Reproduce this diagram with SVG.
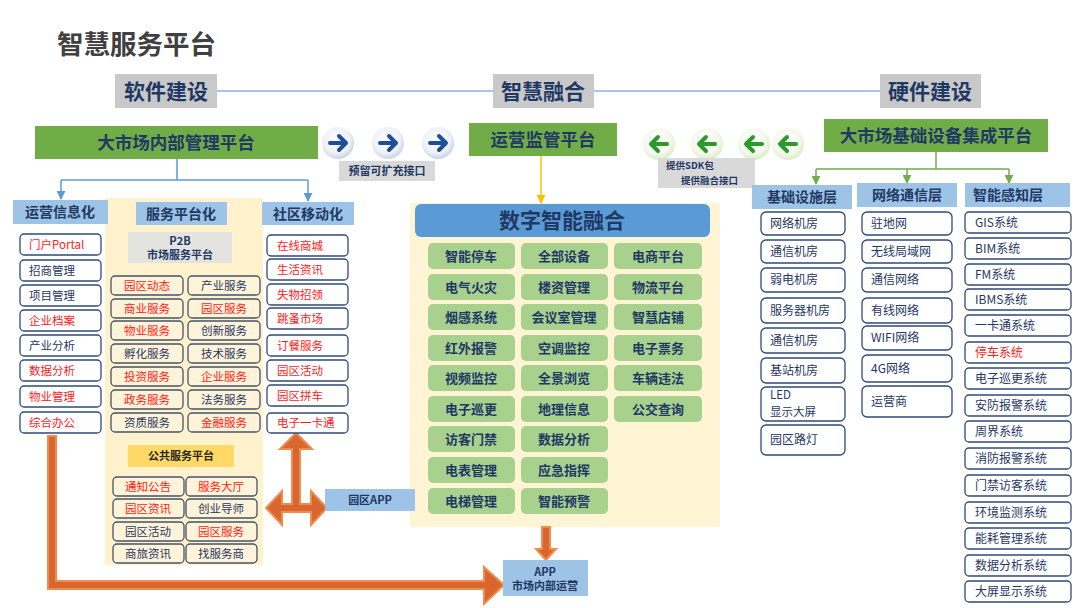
<svg xmlns="http://www.w3.org/2000/svg" width="1080" height="608" viewBox="0 0 1080 608">
<defs>
<style>
text{font-family:"Noto Sans CJK SC","Liberation Sans",sans-serif;}
.hdr{fill:#c9c9c9;}
.hdrt{font-size:21px;font-weight:700;fill:#1f3864;text-anchor:middle;}
.grn{fill:#70ad47;}
.grnt{font-size:17.5px;font-weight:700;fill:#1f3864;text-anchor:middle;}
.lb{fill:#9dc3e6;}
.lbt{font-size:14px;font-weight:700;fill:#1f3864;text-anchor:middle;}
.box{fill:#ffffff;stroke:#2f4a7a;stroke-width:1.3;}
.cbox{fill:#fff3d9;stroke:#44546a;stroke-width:1.3;}
.t{font-size:11.5px;fill:#1f3864;}
.r{fill:#ff1a1a;}
.tm{text-anchor:middle;}
.g{fill:#a9d18e;}
.gt{font-size:13px;font-weight:700;fill:#1f3864;text-anchor:middle;}
.ht{font-size:12px;fill:#1f3864;}
.ora{fill:#d9652f;stroke:#ef8d4f;stroke-width:2;stroke-linejoin:miter;}
.bl{stroke:#5b9bd5;stroke-width:1.5;fill:none;}
.gl{stroke:#70ad47;stroke-width:1.5;fill:none;}
.barw{stroke:#1f4e99;stroke-width:4;fill:none;stroke-linecap:round;stroke-linejoin:round;}
.garw{stroke:#2a9a2a;stroke-width:4;fill:none;stroke-linecap:round;stroke-linejoin:round;}
.lbl{font-size:9.5px;font-weight:700;fill:#1f3864;}
</style>
<radialGradient id="bc" cx="0.45" cy="0.4" r="0.6">
<stop offset="0" stop-color="#ffffff"/><stop offset="0.7" stop-color="#eef1f8"/><stop offset="1" stop-color="#c9d2e6"/>
</radialGradient>
<radialGradient id="gc" cx="0.45" cy="0.4" r="0.6">
<stop offset="0" stop-color="#ffffff"/><stop offset="0.7" stop-color="#f4f9ec"/><stop offset="1" stop-color="#dcebc8"/>
</radialGradient>
<marker id="mb" viewBox="0 0 10 10" refX="9" refY="5" markerWidth="6" markerHeight="6" orient="auto"><path d="M0,0 L10,5 L0,10 z" fill="#5b9bd5"/></marker>
<marker id="mg" viewBox="0 0 10 10" refX="9" refY="5" markerWidth="6" markerHeight="6" orient="auto"><path d="M0,0 L10,5 L0,10 z" fill="#70ad47"/></marker>
<marker id="my" viewBox="0 0 10 10" refX="9" refY="5" markerWidth="6" markerHeight="6" orient="auto"><path d="M0,0 L10,5 L0,10 z" fill="#ffc000"/></marker>
<g id="ab"><circle r="16" fill="url(#bc)"/><path class="barw" d="M-8,0 H7 M1,-7 L8,0 L1,7"/></g>
<g id="ag"><circle r="16" fill="url(#gc)"/><path class="garw" d="M8,0 H-7 M-1,-7 L-8,0 L-1,7"/></g>
</defs>
<rect width="1080" height="608" fill="#ffffff"/>

<g id="title"><text x="57" y="54" style="font-size:26.5px;font-weight:700;fill:#404040">智慧服务平台</text></g>

<g id="service-bg"><rect x="105" y="198" width="158" height="367" fill="#fff2cc"/></g>
<g id="fusion-bg"><rect x="410" y="203" width="310" height="324" fill="#fff2cc" opacity="0.85"/></g>

<g id="connectors">
<line x1="217" y1="91" x2="493" y2="91" stroke="#8db3e2" stroke-width="1.3"/>
<line x1="594" y1="91" x2="880" y2="91" stroke="#8db3e2" stroke-width="1.3"/>
<path class="bl" d="M177,159 V180 M61,180 H308"/>
<line class="bl" x1="61" y1="180" x2="61" y2="199" marker-end="url(#mb)"/>
<line class="bl" x1="308" y1="180" x2="308" y2="201" marker-end="url(#mb)"/>
<path class="gl" d="M936,152 V169 M816,169 H1009"/>
<line class="gl" x1="816" y1="169" x2="816" y2="184" marker-end="url(#mg)"/>
<line class="gl" x1="907" y1="169" x2="907" y2="183" marker-end="url(#mg)"/>
<line class="gl" x1="1009" y1="169" x2="1009" y2="183" marker-end="url(#mg)"/>
<line x1="541" y1="156" x2="541" y2="203" stroke="#ffc000" stroke-width="1.5" marker-end="url(#my)"/>
<polygon class="ora" points="296,433 312,449 300,449 300,504 311,504 311,491 327,508 311,525 311,512 282,512 282,525 266,508 282,491 282,504 292,504 292,449 280,449"/>
<polygon class="ora" points="48,436 56,436 56,581 484,581 484,567 504,585 484,604 484,589 48,589"/>
<polygon class="ora" points="542,527 550,527 550,549 556,549 546,560 536,549 542,549"/>
</g>

<g id="h-soft"><rect class="hdr" x="115" y="74" width="102" height="34"/><text class="hdrt" x="166" y="99">软件建设</text></g>
<g id="h-fuse"><rect class="hdr" x="493" y="74" width="101" height="34"/><text class="hdrt" x="543" y="99">智慧融合</text></g>
<g id="h-hard"><rect class="hdr" x="880" y="74" width="101" height="34"/><text class="hdrt" x="930" y="99">硬件建设</text></g>

<g id="p-internal"><rect class="grn" x="35" y="126" width="283" height="33"/><text class="grnt" x="176" y="149">大市场内部管理平台</text></g>
<g id="p-monitor"><rect class="grn" x="469" y="123" width="148" height="33"/><text class="grnt" x="543" y="146">运营监管平台</text></g>
<g id="p-infra"><rect class="grn" x="824" y="119" width="224" height="33"/><text class="grnt" x="936" y="142">大市场基础设备集成平台</text></g>

<g id="arrows-blue">
<use href="#ab" x="338" y="143"/><use href="#ab" x="388" y="143"/><use href="#ab" x="438" y="143"/>
<rect x="339" y="161" width="96" height="20" fill="#d9d9d9"/>
<text class="lbl" x="387" y="175" text-anchor="middle" style="font-size:11px">预留可扩充接口</text>
</g>
<g id="arrows-green">
<use href="#ag" x="659" y="144"/><use href="#ag" x="707" y="144"/><use href="#ag" x="754" y="144"/><use href="#ag" x="788" y="144"/>
<rect x="658" y="158" width="97" height="30" fill="#d9d9d9"/>
<text class="lbl" x="666" y="169">提供SDK包</text>
<text class="lbl" x="681" y="184">提供融合接口</text>
</g>

<g id="col-ops">
<rect class="lb" x="13" y="200" width="95" height="24"/><text class="lbt" x="60" y="217">运营信息化</text>
<g><rect class="box" x="20" y="234" width="81" height="21" rx="4"/><text class="t r" x="29" y="248.5">门户Portal</text></g>
<g><rect class="box" x="20" y="260" width="81" height="21" rx="4"/><text class="t" x="29" y="274.5">招商管理</text></g>
<g><rect class="box" x="20" y="285" width="81" height="21" rx="4"/><text class="t" x="29" y="299.5">项目管理</text></g>
<g><rect class="box" x="20" y="310" width="81" height="21" rx="4"/><text class="t r" x="29" y="324.5">企业档案</text></g>
<g><rect class="box" x="20" y="335" width="81" height="21" rx="4"/><text class="t" x="29" y="349.5">产业分析</text></g>
<g><rect class="box" x="20" y="360" width="81" height="21" rx="4"/><text class="t r" x="29" y="374.5">数据分析</text></g>
<g><rect class="box" x="20" y="386" width="81" height="21" rx="4"/><text class="t r" x="29" y="400.5">物业管理</text></g>
<g><rect class="box" x="20" y="412" width="81" height="21" rx="4"/><text class="t r" x="29" y="426.5">综合办公</text></g>
</g>

<g id="col-service">
<rect class="lb" x="136" y="202" width="91" height="23"/><text class="lbt" x="181" y="219">服务平台化</text>
<rect x="128" y="232" width="104" height="31" fill="#e3e3e0"/>
<text class="tm" x="180" y="245" style="font-size:11px;font-weight:700;fill:#1f3864">P2B</text>
<text class="tm" x="180" y="259" style="font-size:11px;font-weight:700;fill:#1f3864">市场服务平台</text>
<g class="t tm">
<rect class="cbox" x="111" y="276" width="72" height="19" rx="4"/><text class="r" x="147" y="289.5">园区动态</text>
<rect class="cbox" x="188" y="276" width="72" height="19" rx="4"/><text x="224" y="289.5">产业服务</text>
<rect class="cbox" x="111" y="299" width="72" height="19" rx="4"/><text class="r" x="147" y="312.5">商业服务</text>
<rect class="cbox" x="188" y="299" width="72" height="19" rx="4"/><text class="r" x="224" y="312.5">园区服务</text>
<rect class="cbox" x="111" y="321" width="72" height="19" rx="4"/><text class="r" x="147" y="334.5">物业服务</text>
<rect class="cbox" x="188" y="321" width="72" height="19" rx="4"/><text x="224" y="334.5">创新服务</text>
<rect class="cbox" x="111" y="344" width="72" height="19" rx="4"/><text x="147" y="357.5">孵化服务</text>
<rect class="cbox" x="188" y="344" width="72" height="19" rx="4"/><text x="224" y="357.5">技术服务</text>
<rect class="cbox" x="111" y="367" width="72" height="19" rx="4"/><text class="r" x="147" y="380.5">投资服务</text>
<rect class="cbox" x="188" y="367" width="72" height="19" rx="4"/><text class="r" x="224" y="380.5">企业服务</text>
<rect class="cbox" x="111" y="390" width="72" height="19" rx="4"/><text class="r" x="147" y="403.5">政务服务</text>
<rect class="cbox" x="188" y="390" width="72" height="19" rx="4"/><text x="224" y="403.5">法务服务</text>
<rect class="cbox" x="111" y="413" width="72" height="19" rx="4"/><text x="147" y="426.5">资质服务</text>
<rect class="cbox" x="188" y="413" width="72" height="19" rx="4"/><text class="r" x="224" y="426.5">金融服务</text>
</g>
<rect x="128" y="445" width="106" height="22" fill="#ffd966"/>
<text class="tm" x="181" y="460" style="font-size:11px;font-weight:700;fill:#262626">公共服务平台</text>
<g class="t tm">
<rect class="cbox" x="113" y="477" width="71" height="19" rx="4"/><text class="r" x="148" y="490.5">通知公告</text>
<rect class="cbox" x="186" y="477" width="71" height="19" rx="4"/><text class="r" x="221" y="490.5">服务大厅</text>
<rect class="cbox" x="113" y="499" width="71" height="19" rx="4"/><text class="r" x="148" y="512.5">园区资讯</text>
<rect class="cbox" x="186" y="499" width="71" height="19" rx="4"/><text x="221" y="512.5">创业导师</text>
<rect class="cbox" x="113" y="522" width="71" height="19" rx="4"/><text x="148" y="535.5">园区活动</text>
<rect class="cbox" x="186" y="522" width="71" height="19" rx="4"/><text class="r" x="221" y="535.5">园区服务</text>
<rect class="cbox" x="113" y="544" width="71" height="19" rx="4"/><text x="148" y="557.5">商旅资讯</text>
<rect class="cbox" x="186" y="544" width="71" height="19" rx="4"/><text x="221" y="557.5">找服务商</text>
</g>
</g>

<g id="col-mobile">
<rect class="lb" x="262" y="202" width="92" height="23"/><text class="lbt" x="308" y="219">社区移动化</text>
<g class="t r">
<rect class="box" x="267" y="235" width="81" height="21" rx="4"/><text x="277" y="249.5">在线商城</text>
<rect class="box" x="267" y="259" width="81" height="21" rx="4"/><text x="277" y="273.5">生活资讯</text>
<rect class="box" x="267" y="284" width="81" height="21" rx="4"/><text x="277" y="298.5">失物招领</text>
<rect class="box" x="267" y="308" width="81" height="21" rx="4"/><text x="277" y="322.5">跳蚤市场</text>
<rect class="box" x="267" y="335" width="81" height="21" rx="4"/><text x="277" y="349.5">订餐服务</text>
<rect class="box" x="267" y="360" width="81" height="21" rx="4"/><text x="277" y="374.5">园区活动</text>
<rect class="box" x="267" y="385" width="81" height="21" rx="4"/><text x="277" y="399.5">园区拼车</text>
<rect class="box" x="267" y="413" width="81" height="20" rx="4"/><text x="277" y="427">电子一卡通</text>
</g>
</g>

<g id="app-park"><rect class="lb" x="325" y="489" width="90" height="22"/><text class="tm" x="370" y="504" style="font-size:11px;font-weight:700;fill:#1f3864">园区APP</text></g>
<g id="app-market"><rect class="lb" x="503" y="560" width="85" height="36"/>
<text class="tm" x="545" y="576" style="font-size:11px;font-weight:700;fill:#1f3864">APP</text>
<text class="tm" x="545" y="590" style="font-size:11px;font-weight:700;fill:#1f3864">市场内部运营</text></g>

<g id="fusion">
<rect x="415" y="204" width="295" height="33" rx="6" fill="#5b9bd5"/>
<text class="tm" x="562" y="228" style="font-size:21px;font-weight:700;fill:#1f3864">数字智能融合</text>
<g>
<rect class="g" x="428" y="243" width="87" height="26" rx="5"/><text class="gt r" x="471" y="261">智能停车</text>
<rect class="g" x="521" y="243" width="87" height="26" rx="5"/><text class="gt" x="564" y="261">全部设备</text>
<rect class="g" x="614" y="243" width="88" height="26" rx="5"/><text class="gt r" x="658" y="261">电商平台</text>
<rect class="g" x="428" y="274" width="87" height="26" rx="5"/><text class="gt" x="471" y="292">电气火灾</text>
<rect class="g" x="521" y="274" width="87" height="26" rx="5"/><text class="gt" x="564" y="292">楼资管理</text>
<rect class="g" x="614" y="274" width="88" height="26" rx="5"/><text class="gt r" x="658" y="292">物流平台</text>
<rect class="g" x="428" y="304" width="87" height="26" rx="5"/><text class="gt" x="471" y="322">烟感系统</text>
<rect class="g" x="521" y="304" width="87" height="26" rx="5"/><text class="gt" x="564" y="322">会议室管理</text>
<rect class="g" x="614" y="304" width="88" height="26" rx="5"/><text class="gt r" x="658" y="322">智慧店铺</text>
<rect class="g" x="428" y="335" width="87" height="26" rx="5"/><text class="gt" x="471" y="353">红外报警</text>
<rect class="g" x="521" y="335" width="87" height="26" rx="5"/><text class="gt" x="564" y="353">空调监控</text>
<rect class="g" x="614" y="335" width="88" height="26" rx="5"/><text class="gt r" x="658" y="353">电子票务</text>
<rect class="g" x="428" y="365" width="87" height="26" rx="5"/><text class="gt" x="471" y="383">视频监控</text>
<rect class="g" x="521" y="365" width="87" height="26" rx="5"/><text class="gt" x="564" y="383">全景浏览</text>
<rect class="g" x="614" y="365" width="88" height="26" rx="5"/><text class="gt r" x="658" y="383">车辆违法</text>
<rect class="g" x="428" y="396" width="87" height="26" rx="5"/><text class="gt" x="471" y="414">电子巡更</text>
<rect class="g" x="521" y="396" width="87" height="26" rx="5"/><text class="gt" x="564" y="414">地理信息</text>
<rect class="g" x="614" y="396" width="88" height="26" rx="5"/><text class="gt r" x="658" y="414">公交查询</text>
<rect class="g" x="428" y="426" width="87" height="26" rx="5"/><text class="gt" x="471" y="444">访客门禁</text>
<rect class="g" x="521" y="426" width="87" height="26" rx="5"/><text class="gt" x="564" y="444">数据分析</text>
<rect class="g" x="428" y="457" width="87" height="26" rx="5"/><text class="gt" x="471" y="475">电表管理</text>
<rect class="g" x="521" y="457" width="87" height="26" rx="5"/><text class="gt" x="564" y="475">应急指挥</text>
<rect class="g" x="428" y="488" width="87" height="26" rx="5"/><text class="gt" x="471" y="506">电梯管理</text>
<rect class="g" x="521" y="488" width="87" height="26" rx="5"/><text class="gt" x="564" y="506">智能预警</text>
</g>
</g>

<g id="layer-infra">
<rect class="lb" x="752" y="185" width="100" height="24"/><text class="lbt" x="802" y="202">基础设施层</text>
<g class="ht">
<rect class="box" x="761" y="212" width="84" height="23" rx="5"/><text x="770" y="227.5">网络机房</text>
<rect class="box" x="761" y="240" width="84" height="23" rx="5"/><text x="770" y="255.5">通信机房</text>
<rect class="box" x="761" y="268" width="84" height="24" rx="5"/><text x="770" y="284">弱电机房</text>
<rect class="box" x="761" y="298" width="84" height="25" rx="5"/><text x="770" y="315">服务器机房</text>
<rect class="box" x="761" y="328" width="84" height="25" rx="5"/><text x="770" y="345">通信机房</text>
<rect class="box" x="761" y="358" width="84" height="25" rx="5"/><text x="770" y="375">基站机房</text>
<rect class="box" x="761" y="387" width="84" height="34" rx="5"/><text x="770" y="399" style="font-size:11.5px">LED</text><text x="770" y="416" style="font-size:11.5px">显示大屏</text>
<rect class="box" x="761" y="425" width="84" height="30" rx="5"/><text x="770" y="444">园区路灯</text>
</g>
</g>
<g id="layer-net">
<rect class="lb" x="857" y="183" width="100" height="24"/><text class="lbt" x="907" y="200">网络通信层</text>
<g class="ht">
<rect class="box" x="862" y="212" width="90" height="23" rx="5"/><text x="871" y="227.5">驻地网</text>
<rect class="box" x="862" y="240" width="90" height="23" rx="5"/><text x="871" y="255.5">无线局域网</text>
<rect class="box" x="862" y="268" width="90" height="24" rx="5"/><text x="871" y="284">通信网络</text>
<rect class="box" x="862" y="298" width="90" height="25" rx="5"/><text x="871" y="315">有线网络</text>
<rect class="box" x="862" y="326" width="90" height="24" rx="5"/><text x="871" y="342">WIFI网络</text>
<rect class="box" x="862" y="355" width="90" height="27" rx="5"/><text x="871" y="373">4G网络</text>
<rect class="box" x="862" y="386" width="90" height="31" rx="5"/><text x="871" y="406">运营商</text>
</g>
</g>
<g id="layer-sense">
<rect class="lb" x="965" y="183" width="105" height="24"/><text class="lbt" x="1008" y="200">智能感知层</text>
<g class="ht">
<rect class="box" x="965" y="212" width="106" height="21" rx="4"/><text x="975" y="226.5">GIS系统</text>
<rect class="box" x="965" y="238" width="106" height="21" rx="4"/><text x="975" y="252.5">BIM系统</text>
<rect class="box" x="965" y="264" width="106" height="21" rx="4"/><text x="975" y="278.5">FM系统</text>
<rect class="box" x="965" y="289" width="106" height="21" rx="4"/><text x="975" y="303.5">IBMS系统</text>
<rect class="box" x="965" y="315" width="106" height="21" rx="4"/><text x="975" y="329.5">一卡通系统</text>
<rect class="box" x="965" y="342" width="106" height="21" rx="4"/><text class="r" x="975" y="356.5">停车系统</text>
<rect class="box" x="965" y="368" width="106" height="21" rx="4"/><text x="975" y="382.5">电子巡更系统</text>
<rect class="box" x="965" y="395" width="106" height="21" rx="4"/><text x="975" y="409.5">安防报警系统</text>
<rect class="box" x="965" y="421" width="106" height="21" rx="4"/><text x="975" y="435.5">周界系统</text>
<rect class="box" x="965" y="448" width="106" height="21" rx="4"/><text x="975" y="462.5">消防报警系统</text>
<rect class="box" x="965" y="475" width="106" height="21" rx="4"/><text x="975" y="489.5">门禁访客系统</text>
<rect class="box" x="965" y="502" width="106" height="21" rx="4"/><text x="975" y="516.5">环境监测系统</text>
<rect class="box" x="965" y="528" width="106" height="21" rx="4"/><text x="975" y="542.5">能耗管理系统</text>
<rect class="box" x="965" y="555" width="106" height="21" rx="4"/><text x="975" y="569.5">数据分析系统</text>
<rect class="box" x="965" y="581" width="106" height="21" rx="4"/><text x="975" y="595.5">大屏显示系统</text>
</g>
</g>
</svg>
